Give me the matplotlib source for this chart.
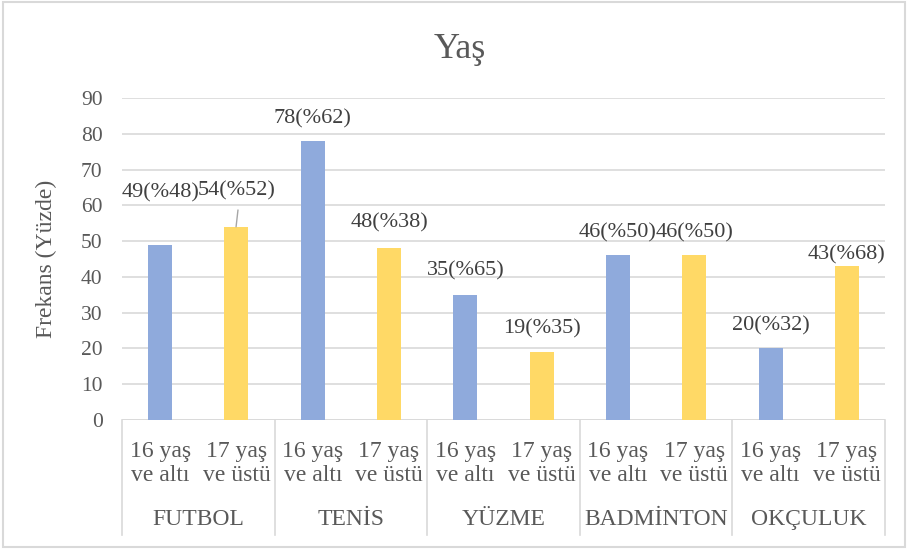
import matplotlib.pyplot as plt
import matplotlib.transforms as mtransforms
from matplotlib.patches import Rectangle

# veriler
sporlar = ["FUTBOL", "TENİS", "YÜZME", "BADMİNTON", "OKÇULUK"]
yas_gruplari = ["16 yaş\nve altı", "17 yaş\nve üstü"]
frekans_16 = [49, 78, 35, 46, 20]
yuzde_16 = [48, 62, 65, 50, 32]
frekans_17 = [54, 48, 19, 46, 43]
yuzde_17 = [52, 38, 35, 50, 68]

# etiket kaydirmalari (nokta), cubuk tepesinden etiket merkezine
kayma_16 = [37, 16, 17, 16, 16]
kayma_17 = [26, 18, 17, 16, 8]

mavi = "#8FAADC"
sari = "#FFD966"
gri_yazi = "#595959"
grid_renk = "#D9D9D9"

plt.rcParams["font.family"] = ["Liberation Serif", "DejaVu Serif"]

fig = plt.figure(figsize=(9.08, 5.51), dpi=100)
ax = fig.add_axes([122 / 908, 1 - 420 / 551, 763 / 908, 322 / 551])

n = len(sporlar)
x16 = [2 * i for i in range(n)]
x17 = [2 * i + 1 for i in range(n)]
genislik = 0.315

ax.bar(x16, frekans_16, width=genislik, color=mavi, zorder=2)
ax.bar(x17, frekans_17, width=genislik, color=sari, zorder=2)

for xs, fs, ys, ks in [(x16, frekans_16, yuzde_16, kayma_16),
                       (x17, frekans_17, yuzde_17, kayma_17)]:
    for x, f, y, k in zip(xs, fs, ys, ks):
        ax.annotate(f"{f}(%{y})", xy=(x, f), xytext=(0, k),
                    textcoords="offset points", ha="center", va="center",
                    fontsize=16, color="#404040", zorder=3)

# FUTBOL 17 yas icin kilavuz cizgi
ax.annotate("", xy=(x17[0] - 0.005, frekans_17[0]), xytext=(x17[0] + 0.02, frekans_17[0] + 4.7),
            arrowprops=dict(arrowstyle="-", color="#A6A6A6", lw=1, shrinkA=0, shrinkB=0))

ax.set_xlim(-0.5, 2 * n - 0.5)
ax.set_ylim(0, 90)
ax.set_yticks(range(0, 91, 10))
ax.tick_params(axis="y", length=0, pad=14, labelsize=15.5, labelcolor=gri_yazi)
ax.set_xticks([])
ax.yaxis.grid(True, color=grid_renk, lw=1.2, zorder=0)
for s in ax.spines.values():
    s.set_visible(False)
ax.axhline(0, color=grid_renk, lw=1.2, zorder=1)

ax.set_ylabel("Frekans (Yüzde)", fontsize=17, color=gri_yazi)
ax.yaxis.set_label_coords(-0.085, 0.5)

# kategori ekseni
tr = mtransforms.blended_transform_factory(ax.transData, ax.transAxes)
for i, spor in enumerate(sporlar):
    for j, grup in enumerate(yas_gruplari):
        ax.text(2 * i + j, -0.135, grup, transform=tr, ha="center", va="center",
                fontsize=17, color=gri_yazi, linespacing=1.15)
    ax.text(2 * i + 0.5, -0.31, spor, transform=tr, ha="center", va="center",
            fontsize=17, color=gri_yazi)
for i in range(n + 1):
    ax.plot([2 * i - 0.5] * 2, [0, -0.357], transform=tr, color=grid_renk,
            lw=1.2, clip_on=False)

fig.text(0.506, 0.911, "Yaş", ha="center", va="center", fontsize=26, color=gri_yazi)

fig.patches.append(Rectangle((0.003, 0.007), 0.994, 0.99, transform=fig.transFigure,
                             fill=False, edgecolor=grid_renk, lw=1.5))

fig.savefig("out.png", dpi=100)
